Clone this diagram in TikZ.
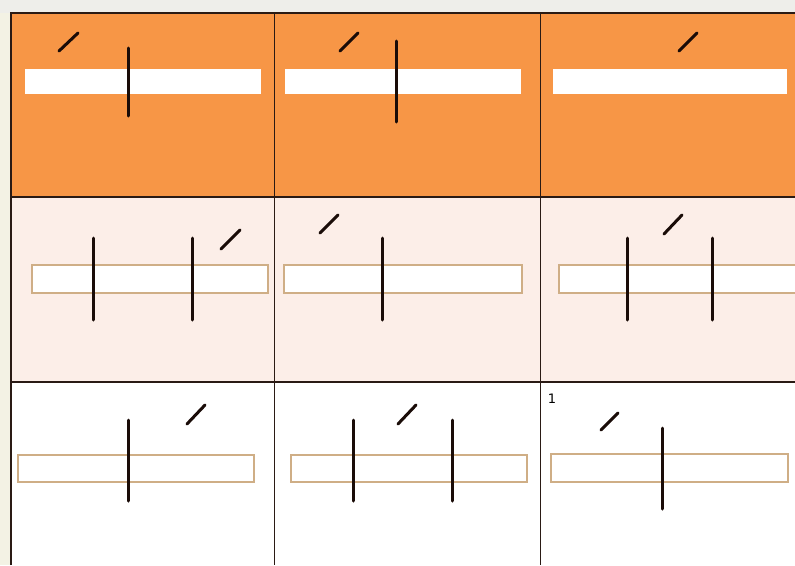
\documentclass[tikz,border=0pt]{standalone}
\usepackage{fontspec}
\setmainfont{DejaVu Sans}
\definecolor{bgcream}{HTML}{F3F2E4}
\definecolor{topgray}{HTML}{EEEEEA}
\definecolor{accorange}{HTML}{F79646}
\definecolor{rowpink}{HTML}{FCEEE8}
\definecolor{bartan}{HTML}{CFAE86}
\definecolor{gridline}{HTML}{2A1A14}
\definecolor{inkdark}{HTML}{1A0C08}
\tikzset{
  solidbar/.style={fill=white,draw=none},
  outlinebar/.style={fill=white,draw=bartan,line width=1.2pt},
  post/.style={draw=inkdark,line width=3pt,line cap=round},
  tick/.style={draw=inkdark,line width=3pt,line cap=round},
  grid/.style={draw=gridline,line width=1.4pt},
}
\begin{document}
\begin{tikzpicture}[x=1pt,y=-1pt]
\useasboundingbox (0,0) rectangle (795,565);
\fill[bgcream] (0,0) rectangle (795,565);
\fill[topgray] (0,0) rectangle (795,13);
% row fills
\fill[accorange] (11,13) rectangle (795,197);
\fill[rowpink] (11,197) rectangle (795,382);
\fill[white] (11,382) rectangle (795,565);
% ---- row 1
\fill[solidbar] (25,69) rectangle (261,94);
\draw[post] (128,48) -- (128,116);
\draw[tick] (59,51) -- (78,33);
\fill[solidbar] (285,69) rectangle (521,94);
\draw[post] (396,41) -- (396,122);
\draw[tick] (340,51) -- (358,33);
\fill[solidbar] (553,69) rectangle (787,94);
\draw[tick] (679,51) -- (697,33);
% ---- row 2
\draw[outlinebar] (32,265) rectangle (268,293);
\draw[post] (93,238) -- (93,320);
\draw[post] (192,238) -- (192,320);
\draw[tick] (221,249) -- (240,230);
\draw[outlinebar] (284,265) rectangle (522,293);
\draw[post] (382,238) -- (382,320);
\draw[tick] (320,233) -- (338,215);
\draw[outlinebar] (559,265) rectangle (798,293);
\draw[post] (627,238) -- (627,320);
\draw[post] (712,238) -- (712,320);
\draw[tick] (664,234) -- (682,215);
% ---- row 3
\draw[outlinebar] (18,455) rectangle (254,482);
\draw[post] (128,420) -- (128,501);
\draw[tick] (187,424) -- (205,405);
\draw[outlinebar] (291,455) rectangle (527,482);
\draw[post] (353,420) -- (353,501);
\draw[post] (452,420) -- (452,501);
\draw[tick] (398,424) -- (416,405);
\draw[outlinebar] (551,454) rectangle (788,482);
\draw[post] (662,428) -- (662,509);
\draw[tick] (601,430) -- (618,413);
\node[font=\fontsize{13}{15}\selectfont,anchor=center,inner sep=0pt] (lbl) at (552,399) {1};
% ---- grid
\draw[grid] (11,565) -- (11,13) -- (795,13);
\draw[grid] (274.5,13) -- (274.5,565);
\draw[grid] (540.5,13) -- (540.5,565);
\draw[grid] (11,197) -- (795,197);
\draw[grid] (11,382) -- (795,382);
\end{tikzpicture}
\end{document}
